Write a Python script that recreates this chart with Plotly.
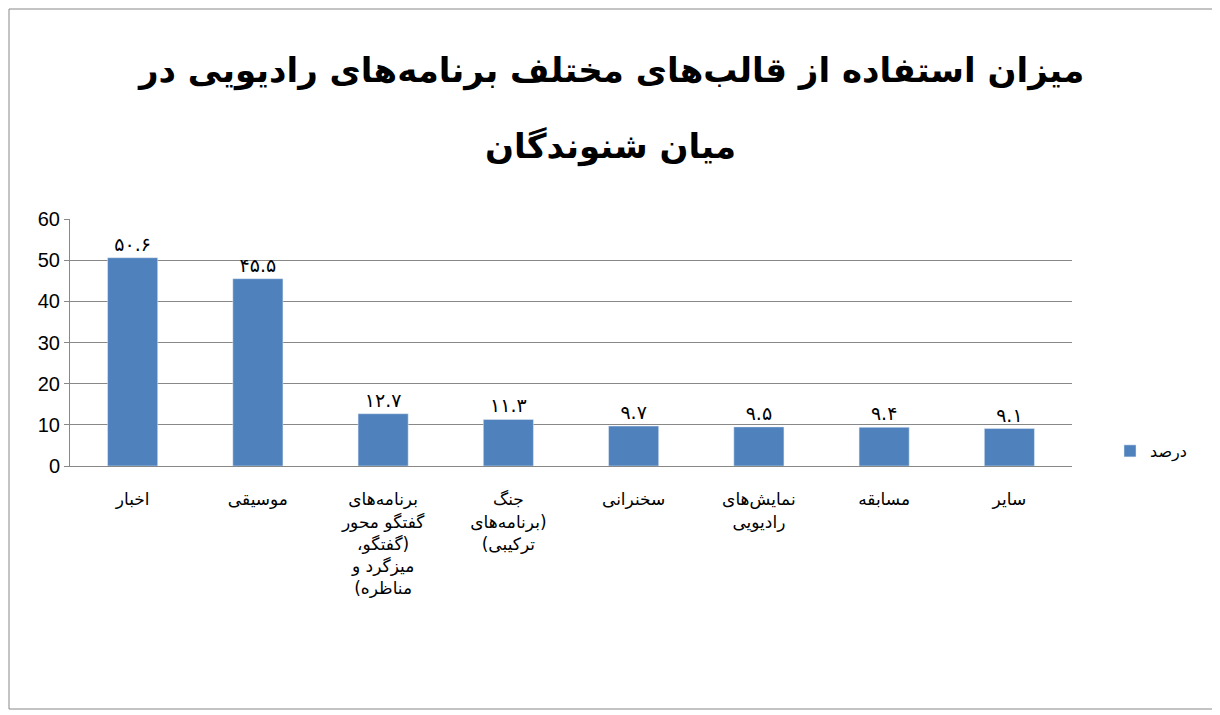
import plotly.graph_objects as go

R = "\u200f"
category_lines = [["اخبار"], ["موسیقی"],
                  ["برنامه‌های", "گفتگو محور", "(گفتگو،", "میزگرد و", "مناظره)"],
                  ["جنگ", "(برنامه‌های", "ترکیبی)"], ["سخنرانی"], ["نمایش‌های", "رادیویی"],
                  ["مسابقه"], ["سایر"]]
categories = ["<br>".join(R + s + R for s in lines) for lines in category_lines]
values = [50.6, 45.5, 12.7, 11.3, 9.7, 9.5, 9.4, 9.1]
value_labels = ["۵۰.۶", "۴۵.۵", "۱۲.۷", "۱۱.۳", "۹.۷", "۹.۵", "۹.۴", "۹.۱"]
title_lines = ["میزان استفاده از قالب‌های مختلف برنامه‌های رادیویی در", "میان شنوندگان"]

W, H = 1220, 715
L, T, PR, PB = 62, 211, 1064, 458  # plot area in page px
pw, ph = PR - L, PB - T

def px(x):
    return (x - L) / pw

def py(y):
    return (PB - y) / ph

fig = go.Figure()
fig.add_trace(go.Bar(
    x=list(range(len(categories))), y=values, name="درصد",
    marker=dict(color="#4F81BD"), width=0.4,
    text=value_labels, textposition="outside", cliponaxis=False,
    textfont=dict(size=19, color="#000", family="DejaVu Sans"),
))

annotations = [dict(text="<b>" + t + "</b>", xref="paper", yref="paper",
                    x=px(602), y=py(yy), xanchor="center", yanchor="middle",
                    showarrow=False, font=dict(size=34, family="DejaVu Sans"))
               for t, yy in zip(title_lines, [62, 138])]

fig.update_layout(
    width=W, height=H,
    paper_bgcolor="white", plot_bgcolor="white",
    margin=dict(l=L, r=W - PR, t=T, b=H - PB),
    font=dict(family="DejaVu Sans", color="#000"),
    showlegend=True,
    legend=dict(x=px(1102), y=py(443), xanchor="left", yanchor="middle",
                font=dict(size=16)),
    annotations=annotations,
    shapes=[dict(type="rect", xref="paper", yref="paper", x0=px(1), x1=px(1206),
                 y0=py(701), y1=py(1), line=dict(color="#888", width=1))],
)
fig.update_xaxes(
    tickmode="array", tickvals=list(range(len(categories))), ticktext=categories,
    range=[-0.5, 7.5], showline=True, linecolor="#888", ticks="",
    tickfont=dict(size=17), tickangle=0, ticklabelstandoff=18,
)
fig.update_yaxes(
    range=[0, 60], dtick=10, showgrid=True, gridcolor="#888", gridwidth=1,
    showline=True, linecolor="#888", ticks="outside", ticklen=5, tickcolor="#888",
    tickfont=dict(size=20, family="Liberation Sans"),
)

fig.write_html("out.html")
